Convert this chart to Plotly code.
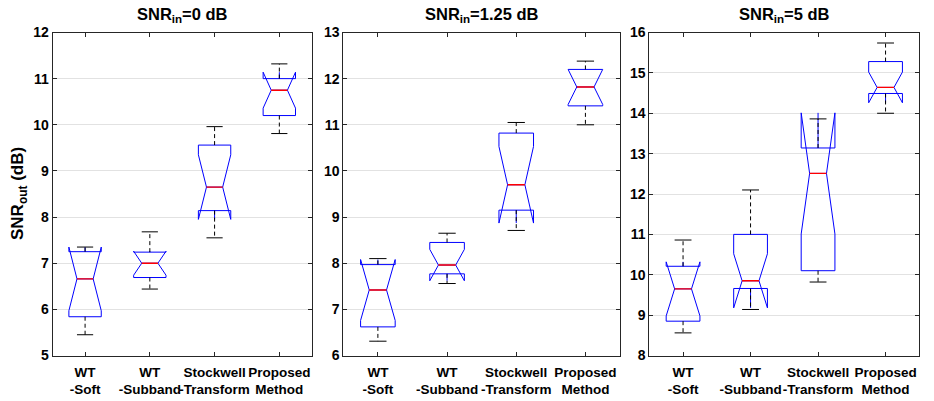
import plotly.graph_objects as go

# ---------------- data ----------------
categories = ["WT<br>-Soft", "WT<br>-Subband", "Stockwell<br>-Transform", "Proposed<br>Method"]
positions = [1, 2, 3, 4]
titles = ["SNR<sub>in</sub>=0 dB", "SNR<sub>in</sub>=1.25 dB", "SNR<sub>in</sub>=5 dB"]
y_ranges = [[5, 12], [6, 13], [8, 16]]

# SNRin = 0 dB
lw_0 = [5.45, 6.44, 7.55, 9.81]
q1_0 = [5.84, 6.69, 8.14, 10.20]
med_0 = [6.66, 7.00, 8.65, 10.75]
q3_0 = [7.25, 7.24, 9.56, 11.00]
uw_0 = [7.35, 7.68, 9.96, 11.32]
notch_0 = [0.69, 0.26, 0.70, 0.39]

# SNRin = 1.25 dB
lw_1 = [6.31, 7.56, 8.71, 11.00]
q1_1 = [6.62, 7.77, 9.15, 11.41]
med_1 = [7.42, 7.96, 9.70, 11.82]
q3_1 = [7.97, 8.45, 10.82, 12.20]
uw_1 = [8.10, 8.65, 11.05, 12.38]
notch_1 = [0.66, 0.34, 0.83, 0.38]

# SNRin = 5 dB
lw_5 = [8.56, 9.14, 9.82, 14.00]
q1_5 = [8.85, 9.66, 10.10, 14.49]
med_5 = [9.65, 9.85, 12.51, 14.64]
q3_5 = [10.21, 11.00, 13.14, 15.28]
uw_5 = [10.86, 12.10, 13.86, 15.74]
notch_5 = [0.67, 0.67, 1.50, 0.38]

panels = [
    (lw_0, q1_0, med_0, q3_0, uw_0, notch_0),
    (lw_1, q1_1, med_1, q3_1, uw_1, notch_1),
    (lw_5, q1_5, med_5, q3_5, uw_5, notch_5),
]

# ---------------- style ----------------
W, H = 934, 401
BOX_W = 0.5
NOTCH_W = 0.25          # plotly: median width = box width * (1 - 2*notchwidth)
CAP_HALF = 0.125
FONT = "Liberation Sans, Arial, Helvetica, sans-serif"
AXC = "#262626"
GRID = "#e2e2e2"

x_dom = [[52.7 / W, 311.7 / W], [343.3 / W, 620.0 / W], [649.3 / W, 919.3 / W]]
y_dom = [1 - 355.5 / H, 1 - 32.5 / H]

fig = go.Figure()

for k, (lw, q1, med, q3, uw, ns) in enumerate(panels):
    xa = "x" if k == 0 else f"x{k+1}"
    ya = "y" if k == 0 else f"y{k+1}"
    # box with notches (whiskers drawn separately)
    fig.add_trace(go.Box(
        x=positions, q1=q1, median=med, q3=q3,
        lowerfence=q1, upperfence=q3, notchspan=ns,
        notched=True, notchwidth=NOTCH_W, width=BOX_W, whiskerwidth=0,
        line=dict(color="#0000ff", width=1), fillcolor="rgba(0,0,0,0)",
        boxpoints=False, showlegend=False, xaxis=xa, yaxis=ya, hoverinfo="skip",
    ))
    # dashed whiskers
    wx, wy = [], []
    for p, a, b, c, d in zip(positions, lw, q1, q3, uw):
        wx += [p, p, None, p, p, None]
        wy += [c, d, None, b, a, None]
    fig.add_trace(go.Scatter(x=wx, y=wy, mode="lines",
                             line=dict(color="black", width=1, dash="4px,3px"),
                             showlegend=False, xaxis=xa, yaxis=ya, hoverinfo="skip"))
    # whisker caps
    cx, cy = [], []
    for p, a, d in zip(positions, lw, uw):
        cx += [p - CAP_HALF, p + CAP_HALF, None, p - CAP_HALF, p + CAP_HALF, None]
        cy += [d, d, None, a, a, None]
    fig.add_trace(go.Scatter(x=cx, y=cy, mode="lines",
                             line=dict(color="black", width=1),
                             showlegend=False, xaxis=xa, yaxis=ya, hoverinfo="skip"))
    # red medians
    mh = BOX_W / 2 * (1 - 2 * NOTCH_W)
    mx, my = [], []
    for p, m in zip(positions, med):
        mx += [p - mh, p + mh, None]
        my += [m, m, None]
    fig.add_trace(go.Scatter(x=mx, y=my, mode="lines",
                             line=dict(color="#ff0000", width=1.4),
                             showlegend=False, xaxis=xa, yaxis=ya, hoverinfo="skip"))

layout = dict(
    width=W, height=H,
    margin=dict(l=0, r=0, t=0, b=0),
    paper_bgcolor="white", plot_bgcolor="white",
    font=dict(family=FONT, size=14, color="black"),
)
annotations = []
for k in range(3):
    sx = "xaxis" if k == 0 else f"xaxis{k+1}"
    sy = "yaxis" if k == 0 else f"yaxis{k+1}"
    ya = "y" if k == 0 else f"y{k+1}"
    xa = "x" if k == 0 else f"x{k+1}"
    layout[sx] = dict(
        domain=x_dom[k], anchor=ya, range=[0.5, 4.5],
        tickvals=positions, ticktext=categories, tickangle=0,
        tickfont=dict(family=FONT, size=13.5, weight="bold", color="black"),
        ticks="inside", ticklen=4, tickcolor=AXC, mirror="allticks",
        ticklabelstandoff=4,
        showline=True, linecolor=AXC, linewidth=1, showgrid=False, zeroline=False,
        automargin=False,
    )
    layout[sy] = dict(
        domain=y_dom, anchor=xa, range=y_ranges[k], dtick=1,
        tickfont=dict(family=FONT, size=14, weight="bold", color="black"),
        ticks="inside", ticklen=4, tickcolor=AXC, mirror="allticks",
        showline=True, linecolor=AXC, linewidth=1,
        showgrid=True, gridcolor=GRID, gridwidth=1, zeroline=False,
        automargin=False,
    )
    annotations.append(dict(
        text="<b>" + titles[k] + "</b>", xref="paper", yref="paper",
        x=(x_dom[k][0] + x_dom[k][1]) / 2, y=1 - 15 / H,
        xanchor="center", yanchor="middle", showarrow=False,
        font=dict(family=FONT, size=16.5, color="black"),
    ))
annotations.append(dict(
    text="<b>SNR<sub>out</sub> (dB)</b>", xref="paper", yref="paper",
    x=19 / W, y=(y_dom[0] + y_dom[1]) / 2, textangle=-90,
    xanchor="center", yanchor="middle", showarrow=False,
    font=dict(family=FONT, size=17, color="black"),
))
layout["annotations"] = annotations
fig.update_layout(**layout)

fig.write_html("out.html")
